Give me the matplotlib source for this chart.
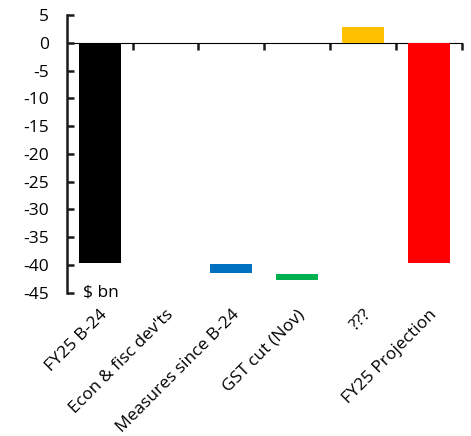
import matplotlib
matplotlib.use('Agg')
import matplotlib.pyplot as plt

# waterfall steps, $ bn
categories = ['FY25 B-24', "Econ & fisc dev'ts", 'Measures since B-24',
              'GST cut (Nov)', '???', 'FY25 Projection']
bar_low = [-39.7, 0.0, -41.4, -42.7, 0.0, -39.7]
bar_high = [0.0, 0.0, -39.8, -41.6, 2.8, 0.0]
colors = ['#000000', '#FFFFFF', '#0070C0', '#00B050', '#FFC000', '#FF0000']

plt.rcParams['font.family'] = ['Open Sans', 'DejaVu Sans']
plt.rcParams['axes.unicode_minus'] = False
axis_col = '#1a1a1a'

fig = plt.figure(figsize=(4.71, 4.36), dpi=100)
ax = fig.add_axes([0.1416, 0.3287, 0.8386, 0.6369])

x = list(range(len(categories)))
heights = [h - l for l, h in zip(bar_low, bar_high)]
ax.bar(x, heights, bottom=bar_low, width=0.64, color=colors, zorder=2)

ax.set_xlim(-0.5, len(categories) - 0.5)
ax.set_ylim(-45, 5)
ax.set_yticks(range(-45, 6, 5))

for s in ['top', 'right', 'bottom']:
    ax.spines[s].set_visible(False)
ax.spines['left'].set_linewidth(1.8)
ax.spines['left'].set_color(axis_col)
ax.tick_params(axis='y', direction='in', length=5, width=1.8, color=axis_col,
               pad=13, labelsize=12.5)

# category labels at the bottom, no tick marks
ax.set_xticks(x)
ax.set_xticklabels(categories, rotation=45, ha='right', rotation_mode='anchor',
                   fontsize=12.5)
ax.tick_params(axis='x', length=0, pad=10)

# zero line with ticks between categories
zero_pos = (0 - (-45)) / 50
sec = ax.secondary_xaxis(zero_pos)
sec.set_xticks([i + 0.5 for i in x])
sec.set_xticklabels([])
sec.spines['bottom'].set_linewidth(1.8)
sec.spines['bottom'].set_color(axis_col)
sec.tick_params(axis='x', direction='in', length=5, width=1.8, color=axis_col)

ax.text(-0.25, -45, '$ bn', ha='left', va='center', fontsize=12.5, clip_on=False)

fig.savefig('out.png', dpi=100)
